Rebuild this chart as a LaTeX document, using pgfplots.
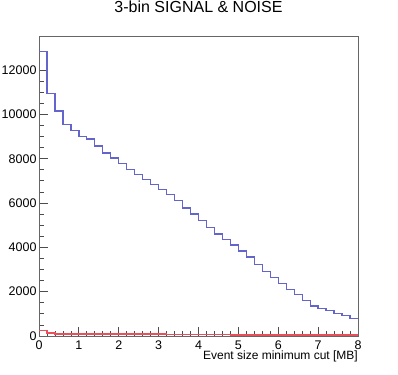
\documentclass[border=0pt]{standalone}
\usepackage{fontspec}
\setmainfont{Liberation Sans}
\usepackage{pgfplots}
\pgfplotsset{compat=1.18}
\definecolor{sigblue}{RGB}{100,100,205}
\definecolor{noisered}{RGB}{235,80,90}
\begin{document}
\begin{tikzpicture}[x=1bp,y=1bp]
\useasboundingbox (0,0) rectangle (398,375);
\begin{axis}[
  at={(39bp,39bp)}, anchor=south west,
  scale only axis, width=319bp, height=299bp,
  xmin=0, xmax=8, ymin=0, ymax=13492,
  xtick={0,1,...,8}, ytick={0,2000,...,12000},
  minor x tick num=4, minor y tick num=3,
  tick align=inside,
  xtick pos=bottom, ytick pos=left,
  major tick length=9bp, minor tick length=4.5bp,
  tick style={black!70, line width=0.8pt},
  axis line style={black!60, line width=1pt},
  /pgf/number format/assume math mode=true,
  /pgf/number format/set thousands separator={},
  scaled y ticks=false,
  ticklabel style={font=\fontsize{12.5bp}{14bp}\selectfont},
  xticklabel style={yshift=-1bp},
  yticklabel style={xshift=1bp},
  xlabel={Event size minimum cut [MB]},
  xlabel style={at={(1,0)}, anchor=base east, yshift=-24bp, inner sep=0pt, font=\fontsize{12bp}{14bp}\selectfont},
  title={3-bin SIGNAL \& NOISE},
  title style={at={(0.5,1)}, anchor=base, yshift=19bp, inner sep=0pt, font=\fontsize{16bp}{18bp}\selectfont},
]
\addplot[sigblue, line width=1.3pt, const plot mark left] coordinates {
(0.0,12850) (0.2,10930) (0.4,10150) (0.6,9550) (0.8,9265)
(1.0,9010) (1.2,8890) (1.4,8570) (1.6,8260) (1.8,8030)
(2.0,7770) (2.2,7520) (2.4,7300) (2.6,7070) (2.8,6850)
(3.0,6620) (3.2,6400) (3.4,6100) (3.6,5780) (3.8,5500)
(4.0,5200) (4.2,4880) (4.4,4600) (4.6,4360) (4.8,4110)
(5.0,3840) (5.2,3570) (5.4,3230) (5.6,2900) (5.8,2630)
(6.0,2360) (6.2,2090) (6.4,1860) (6.6,1590) (6.8,1350)
(7.0,1250) (7.2,1140) (7.4,1000) (7.6,915) (7.8,780) (8.0,780)
};
\addplot[noisered, line width=1.3pt, const plot mark left] coordinates {
(0.0,250) (0.2,140) (0.4,85) (0.6,85) (0.8,85)
(1.0,85) (1.2,85) (1.4,85) (1.6,85) (1.8,85)
(2.0,85) (2.2,85) (2.4,85) (2.6,85) (2.8,85)
(3.0,85) (3.2,55) (3.4,80) (3.6,80) (3.8,55)
(4.0,55) (4.2,55) (4.4,55) (4.6,80) (4.8,45)
(5.0,45) (5.2,45) (5.4,45) (5.6,45) (5.8,45)
(6.0,45) (6.2,45) (6.4,45) (6.6,45) (6.8,45)
(7.0,45) (7.2,45) (7.4,45) (7.6,45) (7.8,45) (8.0,45)
};
\end{axis}
\end{tikzpicture}
\end{document}
